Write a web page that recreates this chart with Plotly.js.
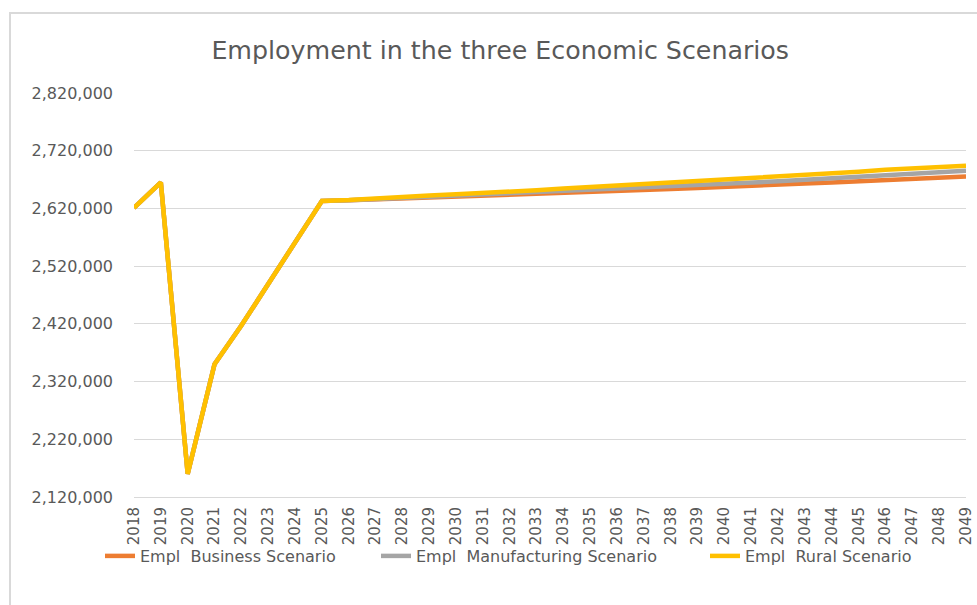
<!DOCTYPE html>
<html>
<head>
<meta charset="utf-8">
<script src="https://cdn.plot.ly/plotly-3.0.1.min.js"></script>
<style>
  html, body { margin: 0; padding: 0; background: #fff; }
  #wrap { position: relative; width: 977px; height: 605px; overflow: hidden; }
  #chart { position: absolute; left: 0; top: 0; width: 977px; height: 605px; }
  #frame { position: absolute; left: 9px; top: 12px; width: 1000px; height: 700px;
           border-left: 2px solid #d9d9d9; border-top: 2px solid #d9d9d9; pointer-events: none; }
</style>
</head>
<body>
<div id="wrap">
  <div id="chart"></div>
  <div id="frame"></div>
</div>
<script>
const years = ["2018","2019","2020","2021","2022","2023","2024","2025","2026","2027","2028","2029","2030","2031","2032","2033","2034","2035","2036","2037","2038","2039","2040","2041","2042","2043","2044","2045","2046","2047","2048","2049"];

const businessScenario = [2621000,2665000,2160000,2350000,2417000,2490000,2562000,2633000,
  2634000,2635500,2637000,2638500,2640000,2641500,2643000,2644500,2646000,2648000,2649500,2651500,
  2653500,2655500,2657000,2659000,2661000,2663000,2665000,2667000,2669000,2671000,2673000,2675500];

const manufacturingScenario = [2621000,2665000,2160000,2350000,2417000,2490000,2562000,2633000,
  2634000,2636000,2637500,2639500,2641000,2643000,2645000,2647000,2649000,2651000,2653000,2655500,
  2657500,2660000,2662000,2664500,2667000,2669500,2672000,2674500,2677000,2680000,2682500,2685500];

const ruralScenario = [2621000,2665000,2160000,2350000,2417000,2490000,2562000,2633000,
  2634500,2637500,2639500,2642500,2644500,2646500,2649500,2651500,2654500,2657000,2659500,2662500,
  2665000,2668500,2670500,2674000,2676000,2678500,2681500,2683500,2687000,2689000,2692500,2694000];

const seriesNames = ["Empl\u00a0\u00a0Business Scenario", "Empl\u00a0\u00a0Manufacturing Scenario", "Empl\u00a0\u00a0Rural Scenario"];
const seriesColors = ["#ED7D31", "#A5A5A5", "#FFC000"];
const yTicks = [2120000,2220000,2320000,2420000,2520000,2620000,2720000,2820000];

const legendIds = ["legend", "legend2", "legend3"];
const legendTextStart = [140, 416, 745];

const seriesValues = [businessScenario, manufacturingScenario, ruralScenario];
const traces = seriesValues.map((vals, i) => ({
  type: "scatter",
  mode: "lines",
  x: years,
  y: vals,
  name: seriesNames[i],
  legend: legendIds[i],
  line: { color: seriesColors[i], width: 4.5, shape: "linear" },
  hoverinfo: "x+y+name"
}));

const layout = {
  width: 977,
  height: 605,
  paper_bgcolor: "rgba(0,0,0,0)",
  plot_bgcolor: "rgba(0,0,0,0)",
  font: { family: "DejaVu Sans", color: "#595959" },
  margin: { l: 134, r: 11, t: 93.3, b: 108.3, pad: 0 },
  title: {
    text: "Employment in the three Economic Scenarios",
    font: { family: "DejaVu Sans", size: 25.3, color: "#595959" },
    x: 0.512, xanchor: "center",
    y: 1 - 50/605, yanchor: "middle"
  },
  xaxis: {
    type: "category",
    range: [0, years.length - 1],
    tickangle: -90,
    tickfont: { family: "DejaVu Sans", size: 15, color: "#595959" },
    ticklabelstandoff: 3,
    showgrid: false,
    showline: true,
    linecolor: "#d9d9d9",
    linewidth: 1,
    ticks: "",
    zeroline: false,
    fixedrange: true
  },
  yaxis: {
    range: [2120000, 2820000],
    tickvals: yTicks,
    tickformat: ",d",
    tickfont: { family: "DejaVu Sans", size: 16, color: "#595959" },
    showgrid: true,
    gridcolor: "#d9d9d9",
    gridwidth: 1,
    showline: false,
    zeroline: false,
    ticks: "",
    ticklabelstandoff: 20,
    fixedrange: true
  },
  showlegend: true
};

legendIds.forEach((id, i) => {
  layout[id] = {
    orientation: "h",
    xref: "container",
    x: (legendTextStart[i] - 40) / 977, xanchor: "left",
    yref: "container",
    y: 1 - 556/605, yanchor: "middle",
    font: { family: "DejaVu Sans", size: 16, color: "#595959" },
    bgcolor: "rgba(0,0,0,0)",
    itemwidth: 30
  };
});

Plotly.newPlot("chart", traces, layout, { displayModeBar: false, staticPlot: true });
</script>
</body>
</html>
